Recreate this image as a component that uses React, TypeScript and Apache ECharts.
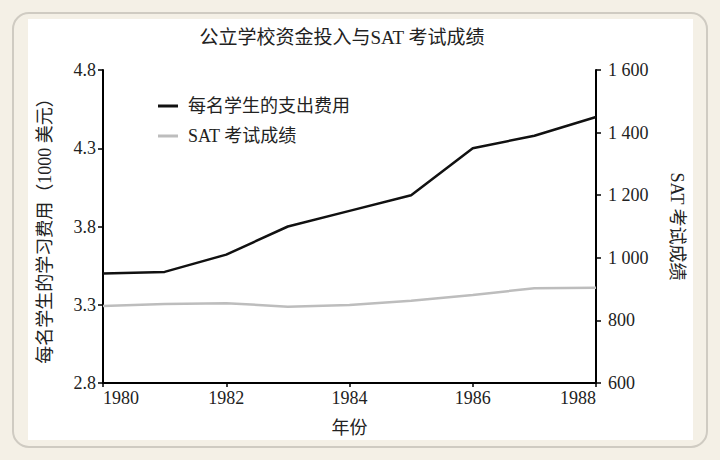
import React, { useEffect, useRef } from "react";
import * as echarts from "echarts";

const years = [1980, 1981, 1982, 1983, 1984, 1985, 1986, 1987, 1988];
const spending = [3.5, 3.51, 3.62, 3.8, 3.9, 4.0, 4.3, 4.38, 4.5];
const satScores = [846, 852, 855, 844, 849, 863, 881, 903, 904];
const leftTicks = [2.8, 3.3, 3.8, 4.3, 4.8];
const rightTicks = [600, 800, 1000, 1200, 1400, 1600];
const titleText = "公立学校资金投入与SAT 考试成绩";
const seriesNames = ["每名学生的支出费用", "SAT 考试成绩"];

const FONT = "'Liberation Serif', 'Noto Sans CJK SC', serif";
const TEXT = "#222";

export default function App() {
  const ref = useRef<HTMLDivElement>(null);
  useEffect(() => {
    document.body.style.margin = "0";
    const chart = echarts.init(ref.current!, null, { renderer: "svg" });
    const axisLine = { show: true, lineStyle: { color: "#000", width: 2 } };
    const axisTick = { show: true, length: 4, lineStyle: { color: "#000", width: 1.5 } };
    chart.setOption({
      animation: false,
      backgroundColor: "#f4f0e6",
      textStyle: { fontFamily: FONT },
      graphic: [
        {
          type: "rect",
          shape: { x: 13, y: 13, width: 694, height: 434, r: 16 },
          style: { fill: "#f4f0e6", stroke: "#cfcbc2", lineWidth: 2 },
          silent: true,
          z: -10,
        },
        {
          type: "rect",
          shape: { x: 28, y: 19, width: 665, height: 421 },
          style: { fill: "#ffffff" },
          silent: true,
          z: -9,
        },
        {
          type: "text",
          x: 342,
          y: 37,
          style: {
            text: titleText,
            fontFamily: FONT,
            fontSize: 19,
            fill: TEXT,
            textAlign: "center",
            textVerticalAlign: "middle",
          },
        },
      ],
      legend: {
        orient: "vertical",
        left: 153,
        top: 91,
        itemWidth: 20,
        itemHeight: 3,
        itemGap: 10,
        data: [
          { name: seriesNames[0], icon: "rect" },
          { name: seriesNames[1], icon: "rect" },
        ],
        textStyle: { fontFamily: FONT, fontSize: 18, color: TEXT, lineHeight: 20, padding: [0, 0, 0, 5] },
      },
      grid: { left: 103, right: 124, top: 70, bottom: 77 },
      xAxis: {
        type: "value",
        min: 1980,
        max: 1988,
        interval: 2,
        name: "年份",
        nameLocation: "middle",
        nameGap: 36,
        nameTextStyle: { fontFamily: FONT, fontSize: 18, color: TEXT },
        axisLine,
        axisTick,
        splitLine: { show: false },
        axisLabel: {
          fontFamily: FONT,
          fontSize: 18,
          color: TEXT,
          margin: 6,
          alignMinLabel: "left",
          alignMaxLabel: "right",
          formatter: (v: number) => String(v),
        },
      },
      yAxis: [
        {
          type: "value",
          position: "left",
          min: leftTicks[0],
          max: leftTicks[leftTicks.length - 1],
          interval: 0.5,
          name: "每名学生的学习费用（1000 美元）",
          nameLocation: "middle",
          nameGap: 49,
          nameRotate: 90,
          nameTextStyle: { fontFamily: FONT, fontSize: 18, color: TEXT },
          axisLine,
          axisTick: { ...axisTick, length: 5 },
          splitLine: { show: false },
          axisLabel: {
            fontFamily: FONT,
            fontSize: 18,
            color: TEXT,
            margin: 7,
            formatter: (v: number) => v.toFixed(1),
          },
        },
        {
          type: "value",
          position: "right",
          min: rightTicks[0],
          max: rightTicks[rightTicks.length - 1],
          interval: 200,
          name: "SAT 考试成绩",
          nameLocation: "middle",
          nameGap: 72,
          nameRotate: -90,
          nameTextStyle: { fontFamily: FONT, fontSize: 18, color: TEXT },
          axisLine,
          axisTick: { ...axisTick, length: 5 },
          splitLine: { show: false },
          axisLabel: {
            fontFamily: FONT,
            fontSize: 18,
            color: TEXT,
            margin: 12,
            formatter: (v: number) => {
              const s = String(v);
              return s.length > 3 ? s.slice(0, s.length - 3) + " " + s.slice(-3) : s;
            },
          },
        },
      ],
      series: [
        {
          name: seriesNames[0],
          type: "line",
          yAxisIndex: 0,
          symbol: "none",
          itemStyle: { color: "#111" },
          lineStyle: { color: "#111", width: 2.5 },
          data: years.map((y, i) => [y, spending[i]]),
        },
        {
          name: seriesNames[1],
          type: "line",
          yAxisIndex: 1,
          symbol: "none",
          itemStyle: { color: "#bdbdbd" },
          lineStyle: { color: "#bdbdbd", width: 2.5 },
          data: years.map((y, i) => [y, satScores[i]]),
        },
      ],
    });
    return () => chart.dispose();
  }, []);
  return (
    <div
      ref={ref}
      style={{ position: "fixed", left: 0, top: 0, width: 720, height: 460 }}
    />
  );
}
